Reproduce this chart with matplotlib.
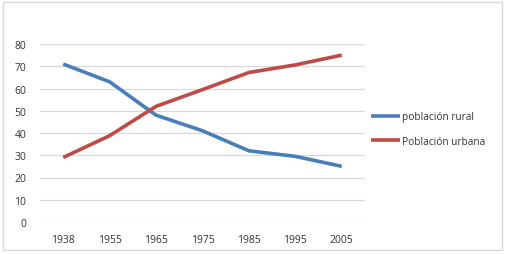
import matplotlib
matplotlib.use("Agg")
import matplotlib.pyplot as plt
from matplotlib.patches import Rectangle

years = ["1938", "1955", "1965", "1975", "1985", "1995", "2005"]
rural = [71, 63, 48, 41, 32, 29.5, 25]
urbana = [29, 38.8, 52, 59.5, 67.2, 70.6, 75]
yticks = [0, 10, 20, 30, 40, 50, 60, 70, 80]

plt.rcParams['font.family'] = ['Open Sans', 'DejaVu Sans']
W, H = 505, 255
fig = plt.figure(figsize=(W / 100, H / 100), dpi=100)
fig.patch.set_facecolor("white")
fig.patches.append(Rectangle((3 / W, 4 / H), 499 / W, 248 / H, transform=fig.transFigure,
                             fill=False, edgecolor="#d9d9d9", linewidth=1))

ax = fig.add_axes([40 / W, (H - 223) / H, 325 / W, 178 / H])
x = list(range(len(years)))
blue = "#4a7ebb"
red = "#be4b48"
ax.plot(x, rural, color=blue, linewidth=2.6, solid_capstyle="butt", label="población rural")
ax.plot(x, urbana, color=red, linewidth=2.6, solid_capstyle="butt", label="Población urbana")
ax.set_xlim(-0.5, len(years) - 0.5)
ax.set_ylim(0, 80)
ax.set_yticks(yticks)
ax.set_xticks(x)
ax.set_xticklabels(years)
ax.yaxis.grid(True, color="#d9d9d9", linewidth=0.9)
ax.set_axisbelow(True)
for s in ax.spines.values():
    s.set_visible(False)
ax.tick_params(axis="both", length=0, labelsize=7.5, colors="#333333")
ax.tick_params(axis="x", pad=9)
ax.tick_params(axis="y", pad=10)

leg = fig.legend(loc="upper left", bbox_to_anchor=(367 / W, (H - 108) / H), frameon=False,
                 fontsize=7.3, handlelength=2.9, handletextpad=0.15, labelspacing=1.35,
                 borderaxespad=0)
for t in leg.get_texts():
    t.set_color("#333333")

fig.savefig("out.png", dpi=100, facecolor="white")
